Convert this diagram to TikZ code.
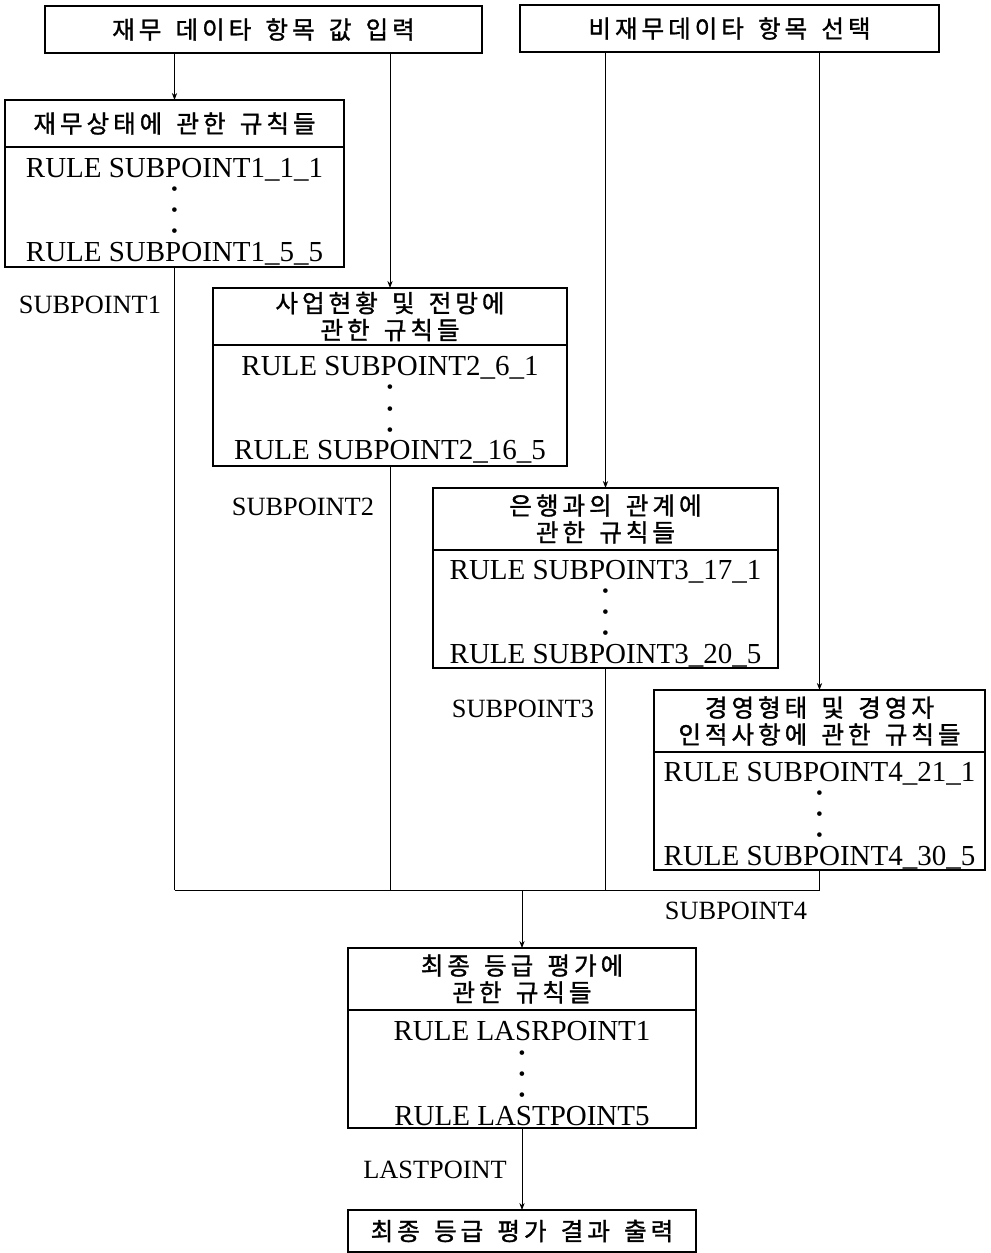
\documentclass[tikz,border=0pt]{standalone}
\usepackage{fontspec}
\setmainfont{Liberation Serif}
\newfontfamily\kr[WordSpace=1.5,LetterSpace=16,FakeBold=1.2]{Noto Sans CJK KR}
\usepackage{tikz}
\usetikzlibrary{arrows.meta,positioning}
\newcommand{\rdot}{\raisebox{1.5pt}{\fontsize{11}{11}\selectfont\textbullet}}
\newcommand{\rulelist}[2]{\rule{0pt}{16pt}#1\\ \rdot\\ \rdot\\ \rdot\\ #2}

\begin{document}
\begin{tikzpicture}[x=0.02cm,y=-0.02cm,
  inbox/.style={draw,line width=0.9pt,inner sep=0pt,outer sep=0pt,font=\kr\fontsize{14}{15.3}\selectfont,minimum height=0.94cm},
  headbox/.style={draw,line width=0.9pt,inner sep=0pt,outer sep=0pt,align=center,font=\kr\fontsize{14}{15.3}\selectfont},
  rulebox/.style={draw,line width=0.9pt,inner sep=0pt,outer sep=0pt,align=center,font=\fontsize{16.5}{12}\selectfont},
  flowline/.style={line width=0.5pt},
  flowarrow/.style={flowline,-{Stealth[length=4pt,width=3pt]}},
  ptlabel/.style={font=\fontsize{15}{15}\selectfont,inner sep=0pt}]
\useasboundingbox (0,0) rectangle (990,1253);
% inputs
\node[inbox,minimum width=8.74cm] (finin) at (263.5,29.5) {재무 데이타 항목 값 입력};
\node[inbox,minimum width=8.38cm] (nfinsel) at (729.5,28.5) {비재무데이타 항목 선택};
% rule groups
\node[headbox,minimum width=6.78cm,minimum height=0.94cm] (finhead) at (174.5,123.5) {재무상태에 관한 규칙들};
\node[rulebox,minimum width=6.78cm,minimum height=2.4cm,below=0pt of finhead] (finrule)
  {\rulelist{RULE SUBPOINT1\_1\_1}{RULE SUBPOINT1\_5\_5}};
\node[headbox,minimum width=7.08cm,minimum height=1.14cm] (bizhead) at (390,316.5) {사업현황 및 전망에\\관한 규칙들};
\node[rulebox,minimum width=7.08cm,minimum height=2.42cm,below=0pt of bizhead] (bizrule)
  {\rulelist{RULE SUBPOINT2\_6\_1}{RULE SUBPOINT2\_16\_5}};
\node[headbox,minimum width=6.9cm,minimum height=1.24cm] (bankhead) at (605.5,519) {은행과의 관계에\\관한 규칙들};
\node[rulebox,minimum width=6.9cm,minimum height=2.36cm,below=0pt of bankhead] (bankrule)
  {\rulelist{RULE SUBPOINT3\_17\_1}{RULE SUBPOINT3\_20\_5}};
\node[headbox,minimum width=6.62cm,minimum height=1.24cm] (mgmthead) at (819.5,721) {경영형태 및 경영자\\인적사항에 관한 규칙들};
\node[rulebox,minimum width=6.62cm,minimum height=2.36cm,below=0pt of mgmthead] (mgmtrule)
  {\rulelist{RULE SUBPOINT4\_21\_1}{RULE SUBPOINT4\_30\_5}};
\node[headbox,minimum width=6.96cm,minimum height=1.24cm] (lasthead) at (522,979) {최종 등급 평가에\\관한 규칙들};
\node[rulebox,minimum width=6.96cm,minimum height=2.36cm,below=0pt of lasthead] (lastrule)
  {\rulelist{RULE LASRPOINT1}{RULE LASTPOINT5}};
\node[inbox,minimum width=6.96cm,minimum height=0.84cm] (out) at (522,1231) {최종 등급 평가 결과 출력};
% connectors
\coordinate (bus) at (522,890);
\draw[flowarrow] (finin.south -| finhead.north) -- (finhead.north);
\draw[flowarrow] (finin.south -| bizhead.north) -- (bizhead.north);
\draw[flowarrow] (nfinsel.south -| bankhead.north) -- (bankhead.north);
\draw[flowarrow] (nfinsel.south -| mgmthead.north) -- (mgmthead.north);
\draw[flowline] (finrule.south) -- (finrule.south |- bus);
\draw[flowline] (bizrule.south) -- (bizrule.south |- bus);
\draw[flowline] (bankrule.south) -- (bankrule.south |- bus);
\draw[flowline] (mgmtrule.south) -- (mgmtrule.south |- bus);
\draw[flowline] (finrule.south |- bus) -- (mgmtrule.south |- bus);
\draw[flowarrow] (bus) -- (lasthead.north);
\draw[flowarrow] (lastrule.south) -- (out.north);
% labels
\node[ptlabel] (sp1) at (90,305) {SUBPOINT1};
\node[ptlabel] (sp2) at (303,507) {SUBPOINT2};
\node[ptlabel] (sp3) at (523,709) {SUBPOINT3};
\node[ptlabel] (sp4) at (736,911) {SUBPOINT4};
\node[ptlabel] (lp) at (435,1170) {LASTPOINT};
\end{tikzpicture}
\end{document}
